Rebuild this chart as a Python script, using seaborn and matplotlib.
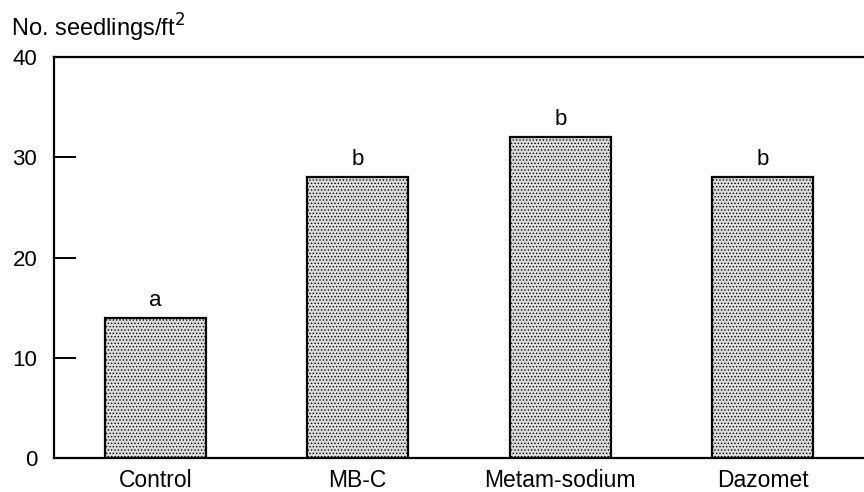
import matplotlib
matplotlib.use("Agg")
import matplotlib.pyplot as plt
import seaborn as sns
import pandas as pd

treatments = ["Control", "MB-C", "Metam-sodium", "Dazomet"]
seedlings = [14, 28, 32, 28]
letters = ["a", "b", "b", "b"]

sns.set_style("white")
plt.rcParams["font.family"] = ["Liberation Sans", "DejaVu Sans"]
plt.rcParams["hatch.linewidth"] = 0.6
plt.rcParams["text.color"] = "black"
plt.rcParams["xtick.color"] = "black"
plt.rcParams["ytick.color"] = "black"

df = pd.DataFrame({"Treatment": treatments, "Seedlings": seedlings})

fig = plt.figure(figsize=(8.64, 4.92), dpi=100)
ax = fig.add_axes([0.0625, 0.069, 0.9375, 0.815])

sns.barplot(data=df, x="Treatment", y="Seedlings", color="#dcdcdc",
            saturation=1, width=0.5, edgecolor="black", linewidth=1.6, ax=ax)
for p in ax.patches:
    p.set_hatch(".....")

# letras de significancia acima das barras
for i, (v, lab) in enumerate(zip(seedlings, letters)):
    ax.annotate(lab, (i, v), xytext=(0, 5), textcoords="offset points",
                ha="center", va="bottom", fontsize=16)

ax.set_xlim(-0.5, 3.5)
ax.set_ylim(0, 40)
ax.set_yticks([0, 10, 20, 30, 40])
ax.set_xlabel("")
ax.set_ylabel("")
ax.tick_params(axis="y", left=True, direction="in", length=16, width=1.4,
               labelsize=16, pad=12)
ax.tick_params(axis="x", bottom=False, length=0, labelsize=16.5, pad=8)
ax.spines["right"].set_visible(False)
for s in ["left", "top", "bottom"]:
    ax.spines[s].set_linewidth(1.6)
    ax.spines[s].set_color("black")

fig.text(0.013, 0.944, "No. seedlings/ft$^2$", fontsize=17, va="center", ha="left")

fig.savefig("out.png", dpi=100)
